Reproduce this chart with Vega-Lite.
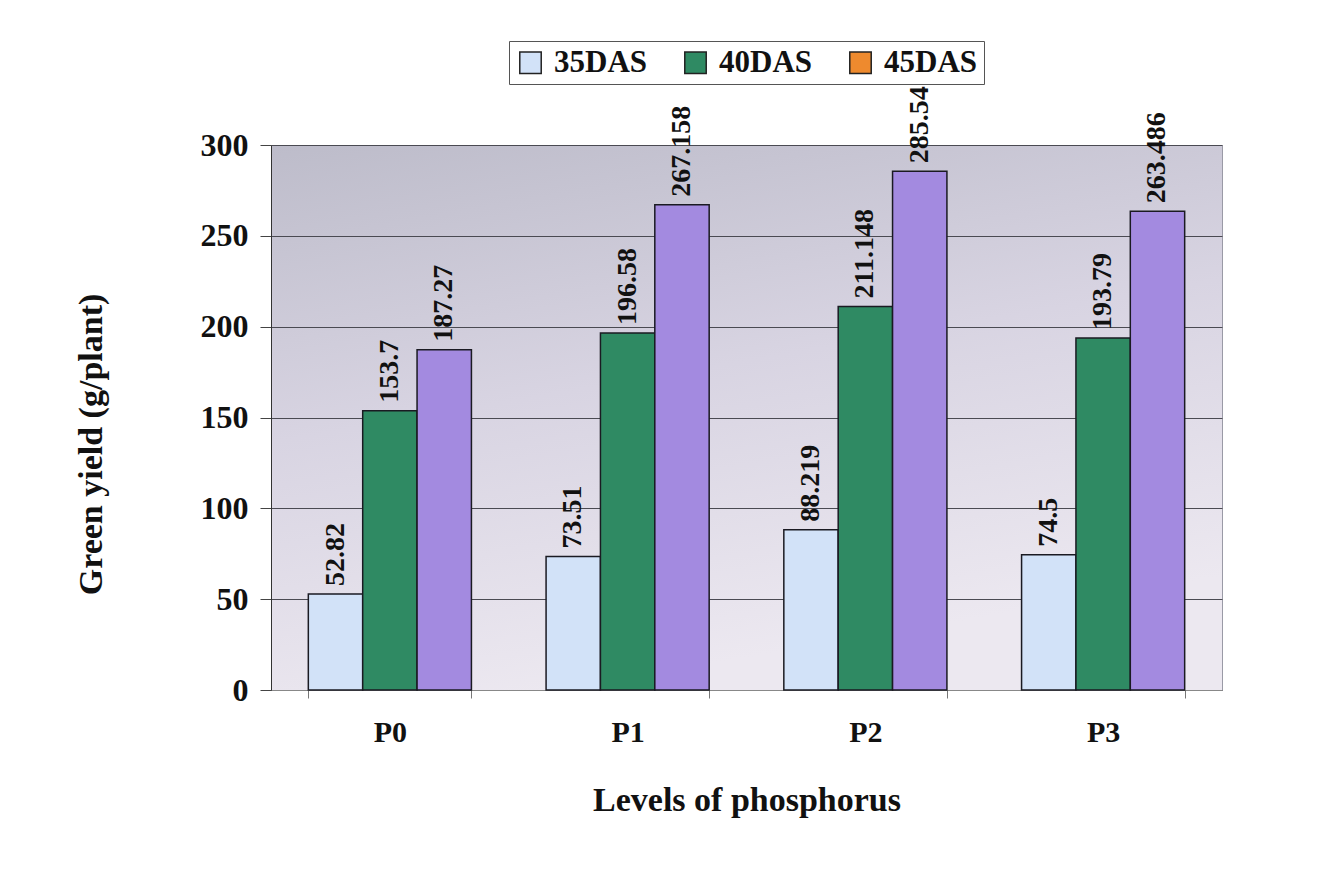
{
  "$schema": "https://vega.github.io/schema/vega-lite/v6.json",
  "width": 951,
  "height": 545,
  "autosize": "none",
  "padding": {"left": 271, "top": 145, "right": 99, "bottom": 179},
  "background": "white",
  "config": {
    "font": "Liberation Serif",
    "view": {
      "stroke": "#9a9aa6",
      "strokeWidth": 1,
      "fill": {"gradient": "linear", "x1": 0, "y1": 0, "x2": 0.3, "y2": 1, "stops": [{"offset": 0, "color": "#bdbcca"}, {"offset": 0.5, "color": "#d8d4e2"}, {"offset": 1, "color": "#ece8f0"}]}
    }
  },
  "data": {
    "values": [
      {"level": "P0", "series": "35DAS", "value": 52.82},
      {"level": "P0", "series": "40DAS", "value": 153.7},
      {"level": "P0", "series": "45DAS", "value": 187.27},
      {"level": "P1", "series": "35DAS", "value": 73.51},
      {"level": "P1", "series": "40DAS", "value": 196.58},
      {"level": "P1", "series": "45DAS", "value": 267.158},
      {"level": "P2", "series": "35DAS", "value": 88.219},
      {"level": "P2", "series": "40DAS", "value": 211.148},
      {"level": "P2", "series": "45DAS", "value": 285.542},
      {"level": "P3", "series": "35DAS", "value": 74.5},
      {"level": "P3", "series": "40DAS", "value": 193.79},
      {"level": "P3", "series": "45DAS", "value": 263.486}
    ]
  },
  "encoding": {
    "x": {
      "field": "level", "type": "nominal",
      "scale": {"paddingInner": 0.314, "paddingOuter": 0.157},
      "axis": {
        "title": "Levels of phosphorus", "labelAngle": 0,
        "labelFont": "Liberation Serif", "labelFontWeight": "bold", "labelFontSize": 30, "labelColor": "#111",
        "labelPadding": 19, "tickBand": "extent", "tickSize": 8, "tickColor": "#777", "domainColor": "#888",
        "titleFont": "Liberation Serif", "titleFontWeight": "bold", "titleFontSize": 34, "titleColor": "#111", "titlePadding": 36
      }
    },
    "xOffset": {"field": "series", "type": "nominal", "scale": {"paddingInner": 0, "paddingOuter": 0}},
    "y": {
      "field": "value", "type": "quantitative",
      "scale": {"domain": [0, 300], "nice": false},
      "axis": {
        "title": "Green yield (g/plant)", "values": [0, 50, 100, 150, 200, 250, 300],
        "labelFont": "Liberation Serif", "labelFontWeight": "bold", "labelFontSize": 32, "labelColor": "#111",
        "labelPadding": 12, "tickSize": 11, "tickColor": "#444", "domainColor": "#333",
        "gridColor": "#4a4a52", "gridOpacity": 1, "gridWidth": 1,
        "titleFont": "Liberation Serif", "titleFontWeight": "bold", "titleFontSize": 34, "titleColor": "#111",
        "titleX": -180, "titleY": 299, "titleBaseline": "middle", "titleAlign": "center", "titleAngle": -90
      }
    }
  },
  "layer": [
    {
      "mark": {"type": "bar", "stroke": "#1a1a22", "strokeWidth": 1.5},
      "encoding": {
        "fill": {
          "condition": {"test": "datum.series === '45DAS'", "value": "#a38ae0"},
          "field": "series", "type": "nominal",
          "scale": {"domain": ["35DAS", "40DAS", "45DAS"], "range": ["#d2e2f8", "#2f8a63", "#ee8a2e"]},
          "legend": {
            "title": null, "orient": "none", "legendX": 238, "legendY": -104, "direction": "horizontal",
            "symbolType": "square", "symbolSize": 460, "symbolStrokeColor": "#222", "symbolStrokeWidth": 1.5,
            "labelFont": "Liberation Serif", "labelFontWeight": "bold", "labelFontSize": 31, "labelColor": "#111",
            "labelOffset": 8, "columnPadding": 32, "padding": 6, "strokeColor": "#555", "fillColor": "white"
          }
        }
      }
    },
    {
      "mark": {"type": "text", "angle": -90, "align": "left", "baseline": "middle", "dx": 8, "font": "Liberation Serif", "fontWeight": "bold", "fontSize": 28, "color": "#111"},
      "encoding": {"text": {"field": "value", "type": "quantitative"}}
    }
  ]
}
